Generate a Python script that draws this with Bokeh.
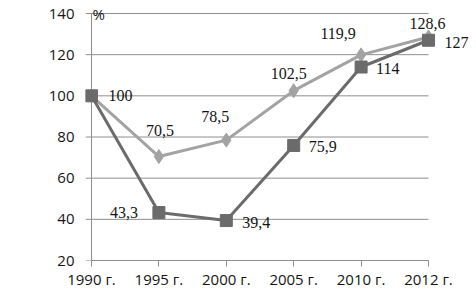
from bokeh.plotting import figure
from bokeh.models import Range1d, FixedTicker, Label, LabelSet, ColumnDataSource
from bokeh.embed import file_html
from bokeh.resources import INLINE

categories = ["1990 г.", "1995 г.", "2000 г.", "2005 г.", "2010 г.", "2012 г."]
series_dark = [100, 43.3, 39.4, 75.9, 114, 127]
series_light = [100, 70.5, 78.5, 102.5, 119.9, 128.6]
y_ticks = [20, 40, 60, 80, 100, 120, 140]

# label placement styles (screen pixel offsets, positive = up)
dark_dx = [17, -21, 16, 15, 15, 16]
dark_dy = [0, 0, -2, -1, -1, -2]
dark_align = ["left", "right", "left", "left", "left", "left"]
light_dx = [0, 1, -11, -5, -23, -1]
light_dy = [0, 26, 24, 17, 21, 13]
light_show = [False, True, True, True, True, True]  # shared start point labelled once

FONT = "Open Sans"
TXT = "#141414"
AXC = "#8e8e8e"
xs = list(range(len(categories)))
n_last = len(categories) - 1

def fmt(v):
    return f"{v:g}".replace(".", ",")

W, H = 472, 293
L, T, B = 85, 5, 33
PX_PER_X = 67.4
X0_PX = 91
x_start = -(X0_PX - L) / PX_PER_X
x_end = (W - X0_PX) / PX_PER_X
y_top = 20 + (H - B - T) / (247 / 120)

p = figure(width=W, height=H, output_backend="svg", toolbar_location=None,
           x_range=Range1d(x_start, x_end), y_range=Range1d(20, y_top),
           min_border_left=L, min_border_right=0, min_border_top=T, min_border_bottom=B)
p.outline_line_color = None
p.background_fill_color = "white"
p.border_fill_color = "white"
p.grid.visible = False

# horizontal gridlines (extending a little left of the axis like tick marks)
p.segment(x0=[x_start] * len(y_ticks), x1=[n_last] * len(y_ticks), y0=y_ticks, y1=y_ticks,
          line_color=AXC, line_width=1)
# vertical axis line at the first category
p.segment(x0=[0], x1=[0], y0=[min(y_ticks)], y1=[max(y_ticks)], line_color=AXC, line_width=1)

p.yaxis.ticker = FixedTicker(ticks=y_ticks)
p.yaxis.axis_line_color = None
p.yaxis.major_tick_line_color = None
p.yaxis.major_tick_out = 0
p.yaxis.major_tick_in = 0
p.yaxis.major_label_standoff = 11

p.xaxis.ticker = FixedTicker(ticks=xs)
p.xaxis.bounds = (0, n_last)
p.xaxis.major_label_overrides = {i: c for i, c in enumerate(categories)}
p.xaxis.axis_line_color = AXC
p.xaxis.major_tick_line_color = AXC
p.xaxis.major_tick_in = 0
p.xaxis.major_tick_out = 6
p.xaxis.major_label_standoff = 2
for ax in (p.xaxis, p.yaxis):
    ax.minor_tick_line_color = None
    ax.major_label_text_font = FONT
    ax.major_label_text_font_size = "15px"
    ax.major_label_text_color = TXT

src_d = ColumnDataSource(dict(x=xs, y=series_dark, t=[fmt(v) for v in series_dark],
                              dx=dark_dx, dy=dark_dy, al=dark_align))
src_l = ColumnDataSource(dict(x=xs, y=series_light,
                              t=[fmt(v) if s else "" for v, s in zip(series_light, light_show)],
                              dx=light_dx, dy=light_dy))

p.line("x", "y", source=src_l, line_color="#a3a3a3", line_width=3)
p.scatter("x", "y", source=src_l, marker="diamond", size=14, fill_color="#a3a3a3", line_color="#a3a3a3")
p.line("x", "y", source=src_d, line_color="#6b6b6b", line_width=3)
p.scatter("x", "y", source=src_d, marker="square", size=12, fill_color="#6b6b6b", line_color="#6b6b6b")

p.add_layout(LabelSet(x="x", y="y", text="t", source=src_d, x_offset="dx", y_offset="dy",
                      text_align="al", text_baseline="middle", text_font=FONT,
                      text_font_size="16px", text_color=TXT))
p.add_layout(LabelSet(x="x", y="y", text="t", source=src_l,
                      x_offset="dx", y_offset="dy", text_align="center", text_baseline="middle",
                      text_font=FONT, text_font_size="16px", text_color=TXT))

p.add_layout(Label(x=0, y=max(y_ticks), text="%", x_offset=1, y_offset=0, text_baseline="middle",
                   text_font=FONT, text_font_size="15px", text_color=TXT))

open("out.html", "w").write(file_html(p, INLINE))
